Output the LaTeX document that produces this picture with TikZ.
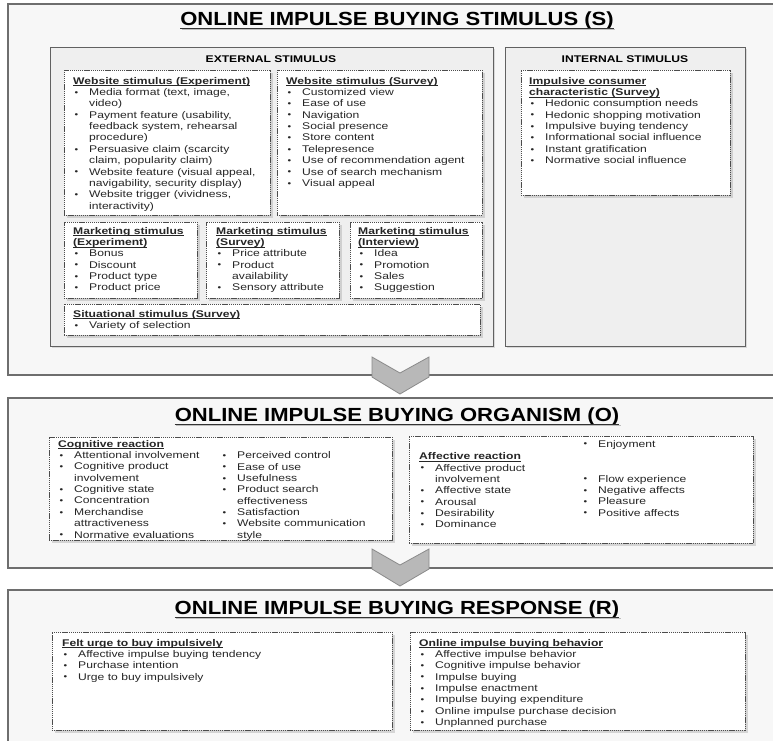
\documentclass[tikz,border=0pt]{standalone}
\usepackage{fontspec}
\setmainfont{Liberation Sans}
\newfontfamily\bodyf[FakeStretch=1.25]{Liberation Sans}
\newfontfamily\titlef[FakeStretch=1.16]{Liberation Sans}
\usetikzlibrary{shadows}
\newcommand\bu{\makebox[16pt][l]{\hspace{1.5pt}\raisebox{0.3pt}{\scalebox{0.85}{•}}}}
\newcommand\ct{\hspace*{16pt}}
\newsavebox\hdbox
\newcommand\hd[1]{\sbox\hdbox{\textbf{#1}}\rlap{\rule[-1.7pt]{\wd\hdbox}{0.6pt}}\usebox\hdbox}
\newcommand\bx[6]{\node[#2, minimum width={(#5-#3)*1pt}, minimum height={(#6-#4)*1pt}] (#1) at (#3,#4) {};}
\definecolor{frame}{HTML}{6E6E6E}
\definecolor{grpfill}{HTML}{EFEFEF}
\definecolor{chevfill}{HTML}{B8B8B8}
\definecolor{chevline}{HTML}{8A8A8A}
\begin{document}
\begin{tikzpicture}[x=1pt,y=-1pt,
  secbox/.style={draw=frame, fill=white!97!black, line width=1.1pt, anchor=north west, inner sep=0pt, outer sep=0pt},
  grpbox/.style={draw=black!62, fill=grpfill, line width=0.9pt, anchor=north west, inner sep=0pt, outer sep=0pt,
     drop shadow={opacity=0.25, shadow xshift=2pt, shadow yshift=-2pt}},
  dbox/.style={draw=black!70, fill=white, line width=0.7pt, dash pattern=on 1.3pt off 0.8pt, anchor=north west, inner sep=0pt, outer sep=0pt,
     drop shadow={opacity=0.28, shadow xshift=2.5pt, shadow yshift=-2.5pt}},
  txt/.style={anchor=north west, inner sep=0pt, align=left, text=black!85,
     font=\bodyf\fontsize{9.7}{11.35}\selectfont},
  bigtitle/.style={anchor=base, inner sep=0pt, font=\titlef\bfseries\fontsize{19}{22}\selectfont},
  grplabel/.style={anchor=base, inner sep=0pt, font=\bodyf\bfseries\fontsize{9.7}{11}\selectfont},
  uline/.style={line width=1pt, black!80},
  ushadow/.style={line width=1.4pt, black!25},
  chev/.style={fill=chevfill, draw=chevline, line width=0.8pt, line join=miter}
]
\useasboundingbox (0,0) rectangle (773,740);
\fill[white] (0,0) rectangle (773,740);

% ---------------- Stimulus section
\bx{S}{secbox}{8}{4}{775}{375}
\node[bigtitle] (St) at (397,25) {ONLINE IMPULSE BUYING STIMULUS (S)};
\draw[ushadow] ([xshift=1.5pt,yshift=-4.5pt]St.base west) -- ([xshift=1.5pt,yshift=-4.5pt]St.base east);
\draw[uline] ([yshift=-3pt]St.base west) -- ([yshift=-3pt]St.base east);

\bx{ext}{grpbox}{50}{47}{493}{346}
\bx{int}{grpbox}{505}{47}{745}{346}
\node[grplabel] (extl) at (271,62.5) {EXTERNAL STIMULUS};
\node[grplabel] (intl) at (625,62.5) {INTERNAL STIMULUS};

\bx{we}{dbox}{64}{70}{270}{215}
\bx{ws}{dbox}{277}{70}{482}{215}
\bx{me}{dbox}{64}{222}{197}{298}
\bx{msv}{dbox}{206}{222}{339}{298}
\bx{mi}{dbox}{350}{222}{482}{298}
\bx{si}{dbox}{64}{304}{480}{335}
\bx{ic}{dbox}{521}{70}{730}{195}

\node[txt] (wet) at (73,77) {\hd{Website stimulus (Experiment)}\\
\bu Media format (text, image,\\
\ct video)\\
\bu Payment feature (usability,\\
\ct feedback system, rehearsal\\
\ct procedure)\\
\bu Persuasive claim (scarcity\\
\ct claim, popularity claim)\\
\bu Website feature (visual appeal,\\
\ct navigability, security display)\\
\bu Website trigger (vividness,\\
\ct interactivity)};

\node[txt] (wst) at (286,77) {\hd{Website stimulus (Survey)}\\
\bu Customized view\\
\bu Ease of use\\
\bu Navigation\\
\bu Social presence\\
\bu Store content\\
\bu Telepresence\\
\bu Use of recommendation agent\\
\bu Use of search mechanism\\
\bu Visual appeal};

\node[txt] (met) at (73,227) {\hd{Marketing stimulus}\\
\hd{(Experiment)}\\
\bu Bonus\\
\bu Discount\\
\bu Product type\\
\bu Product price};

\node[txt] (mst) at (216,227) {\hd{Marketing stimulus}\\
\hd{(Survey)}\\
\bu Price attribute\\
\bu Product\\
\ct availability\\
\bu Sensory attribute};

\node[txt] (mit) at (358,227) {\hd{Marketing stimulus}\\
\hd{(Interview)}\\
\bu Idea\\
\bu Promotion\\
\bu Sales\\
\bu Suggestion};

\node[txt] (sit) at (73,310) {\hd{Situational stimulus (Survey)}\\
\bu Variety of selection};

\node[txt] (ict) at (529,77) {\hd{Impulsive consumer}\\
\hd{characteristic (Survey)}\\
\bu Hedonic consumption needs\\
\bu Hedonic shopping motivation\\
\bu Impulsive buying tendency\\
\bu Informational social influence\\
\bu Instant gratification\\
\bu Normative social influence};

% ---------------- Organism section
\bx{O}{secbox}{8}{398}{775}{568}
\node[bigtitle] (Ot) at (397,421) {ONLINE IMPULSE BUYING ORGANISM (O)};
\draw[ushadow] ([xshift=1.5pt,yshift=-4.5pt]Ot.base west) -- ([xshift=1.5pt,yshift=-4.5pt]Ot.base east);
\draw[uline] ([yshift=-3pt]Ot.base west) -- ([yshift=-3pt]Ot.base east);

\bx{cog}{dbox}{49}{437}{392}{540}
\bx{aff}{dbox}{409}{436}{753}{543}

\node[txt] (cogt) at (58,440) {\hd{Cognitive reaction}\\
\bu Attentional involvement\\
\bu Cognitive product\\
\ct involvement\\
\bu Cognitive state\\
\bu Concentration\\
\bu Merchandise\\
\ct attractiveness\\
\bu Normative evaluations};
\node[txt] (cogc) at (221,451.5) {\bu Perceived control\\
\bu Ease of use\\
\bu Usefulness\\
\bu Product search\\
\ct effectiveness\\
\bu Satisfaction\\
\bu Website communication\\
\ct style};

\node[txt] (afft) at (419,452.5) {\hd{Affective reaction}\\
\bu Affective product\\
\ct involvement\\
\bu Affective state\\
\bu Arousal\\
\bu Desirability\\
\bu Dominance};
\node[txt] (affe) at (582,440) {\bu Enjoyment};
\node[txt] (affc) at (582,475) {\bu Flow experience\\
\bu Negative affects\\
\bu Pleasure\\
\bu Positive affects};

% ---------------- Response section
\bx{R}{secbox}{8}{590}{775}{760}
\node[bigtitle] (Rt) at (397,614) {ONLINE IMPULSE BUYING RESPONSE (R)};
\draw[ushadow] ([xshift=1.5pt,yshift=-4.5pt]Rt.base west) -- ([xshift=1.5pt,yshift=-4.5pt]Rt.base east);
\draw[uline] ([yshift=-3pt]Rt.base west) -- ([yshift=-3pt]Rt.base east);

\bx{fu}{dbox}{52}{632}{392}{730}
\bx{ob}{dbox}{410}{632}{745}{730}

\node[txt] (fut) at (62,639) {\hd{Felt urge to buy impulsively}\\
\bu Affective impulse buying tendency\\
\bu Purchase intention\\
\bu Urge to buy impulsively};

\node[txt] (obt) at (419,639) {\hd{Online impulse buying behavior}\\
\bu Affective impulse behavior\\
\bu Cognitive impulse behavior\\
\bu Impulse buying\\
\bu Impulse enactment\\
\bu Impulse buying expenditure\\
\bu Online impulse purchase decision\\
\bu Unplanned purchase};

% ---------------- Chevrons
\coordinate (c1) at (400,357);
\draw[chev] (372,357) -- (400,373) -- (429,357) -- (429,377) -- (400,394) -- (372,377) -- cycle;
\coordinate (c2) at (400,549);
\draw[chev] (372,549) -- (400,565) -- (429,549) -- (429,569) -- (400,586) -- (372,569) -- cycle;
\end{tikzpicture}
\end{document}
